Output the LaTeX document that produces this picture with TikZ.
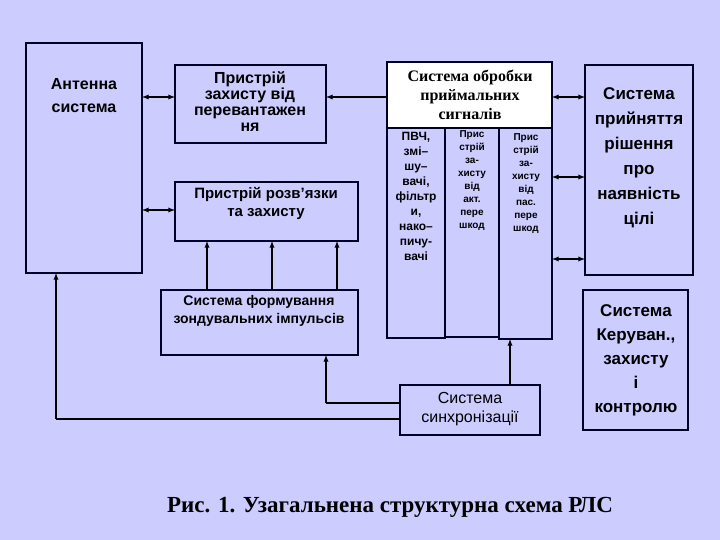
\documentclass[tikz,border=0pt]{standalone}
\usepackage{fontspec}
\setmainfont{Liberation Serif}
\setsansfont{Liberation Sans}
\begin{document}
\begin{tikzpicture}[x=1pt,y=-1pt,
  blk/.style={draw=black!85!blue,line width=1.6pt,fill=none},
  lbl/.style={font=\sffamily\bfseries,align=center,inner sep=0pt},
  ar/.style={line width=1.3pt,-latex},
  bar/.style={line width=1.3pt,latex-latex}]
\fill[fill={rgb,255:red,204;green,204;blue,255}] (0,0) rectangle (720,540);
\useasboundingbox (0,0) rectangle (720,540);
% boxes
\draw[blk] (26,43) rectangle (142,273);
\node[lbl,font=\sffamily\bfseries\fontsize{16}{23}\selectfont] (ant) at (84,96) {Антенна\\система};
\draw[blk] (175,65) rectangle (326,143);
\node[lbl,font=\sffamily\bfseries\fontsize{16}{16}\selectfont] (ovl) at (250,102) {Пристрій\\захисту від\\перевантажен\\ня};
\draw[blk] (175,182) rectangle (358,241);
\node[lbl,font=\sffamily\bfseries\fontsize{15}{18}\selectfont] (roz) at (266,203) {Пристрій розв'язки\\та захисту};
\draw[blk] (161,290) rectangle (358,355);
\node[lbl,font=\sffamily\bfseries\fontsize{14}{18}\selectfont] (form) at (259,311) {Система формування\\зондувальних імпульсів};
% processing
\draw[blk] (387,128) rectangle (445,338);
\draw[blk] (445,128) rectangle (499,337);
\draw[blk] (499,128) rectangle (552,339);
\draw[blk,fill=white] (387,62) rectangle (552,128);
\node[lbl,font=\rmfamily\bfseries\fontsize{16}{19}\selectfont] (proc) at (470,95) {Система обробки\\приймальних\\сигналів};
\node[lbl,font=\sffamily\bfseries\fontsize{12}{15}\selectfont,anchor=north] (c1) at (416,132) {ПВЧ,\\змі–\\шу–\\вачі,\\фільтр\\и,\\нако–\\пичу-\\вачі};
\node[lbl,font=\sffamily\bfseries\fontsize{10}{13}\selectfont,anchor=north] (c2) at (472,130) {Прис\\стрій\\за-\\хисту\\від\\акт.\\пере\\шкод};
\node[lbl,font=\sffamily\bfseries\fontsize{10}{13}\selectfont,anchor=north] (c3) at (526,133) {Прис\\стрій\\за-\\хисту\\від\\пас.\\пере\\шкод};
% sync
\draw[blk] (400,385) rectangle (540,435);
\node[lbl,font=\sffamily\fontsize{16}{19}\selectfont] (sync) at (470,409) {Система\\синхронізації};
% decision
\draw[blk] (585,65) rectangle (693,275);
\node[lbl,font=\sffamily\bfseries\fontsize{17}{25}\selectfont] (dec) at (639,158) {Система\\прийняття\\рішення\\про\\наявність\\цілі};
\draw[blk] (583,290) rectangle (688,430);
\node[lbl,font=\sffamily\bfseries\fontsize{17}{24}\selectfont] (ctl) at (636,360) {Система\\Керуван.,\\захисту\\і\\контролю};
% connectors
\draw[bar] (142,97) -- (175,97);
\draw[bar] (142,210) -- (175,210);
\draw[ar] (387,97) -- (326,97);
\foreach \x in {207,272,337} \draw[ar] (\x,290) -- (\x,241);
\draw[line width=1.3pt] (400,403) -- (326,403);
\draw[ar] (326,403) -- (326,355);
\draw[line width=1.3pt] (400,419) -- (56,419);
\draw[ar] (56,419) -- (56,273);
\draw[ar] (510,385) -- (510,339);
\foreach \y in {97,177,259} \draw[bar] (552,\y) -- (585,\y);
\node[font=\rmfamily\bfseries\fontsize{23}{26}\selectfont] (cap) at (390,507) {Рис. 1. Узагальнена структурна схема РЛС};
\end{tikzpicture}
\end{document}
